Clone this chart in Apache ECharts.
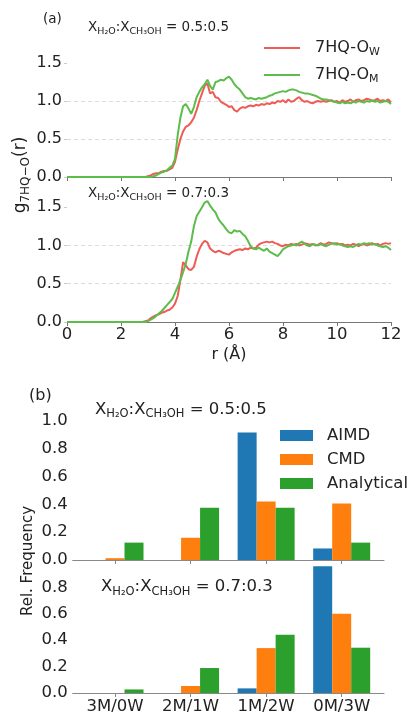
<!DOCTYPE html>
<html><head><meta charset="utf-8">
<script src="https://cdn.jsdelivr.net/npm/echarts@6/dist/echarts.min.js"></script>
<style>html,body{margin:0;padding:0;background:#fff}#c{width:409px;height:715px}</style>
</head><body><div id="c"></div>
<script>
// ---------- DATA ----------
const r = [
 0.0,0.1,0.2,0.3,0.4,0.5,0.6,0.7,0.8,0.9,
 1.0,1.1,1.2,1.3,1.4,1.5,1.6,1.7,1.8,1.9,
 2.0,2.1,2.2,2.3,2.4,2.5,2.6,2.7,2.8,2.9,
 3.0,3.1,3.2,3.3,3.4,3.5,3.6,3.7,3.8,3.9,
 4.0,4.1,4.2,4.3,4.4,4.5,4.6,4.7,4.8,4.9,
 5.0,5.1,5.2,5.3,5.4,5.5,5.6,5.7,5.8,5.9,
 6.0,6.1,6.2,6.3,6.4,6.5,6.6,6.7,6.8,6.9,
 7.0,7.1,7.2,7.3,7.4,7.5,7.6,7.7,7.8,7.9,
 8.0,8.1,8.2,8.3,8.4,8.5,8.6,8.7,8.8,8.9,
 9.0,9.1,9.2,9.3,9.4,9.5,9.6,9.7,9.8,9.9,
 10.0,10.1,10.2,10.3,10.4,10.5,10.6,10.7,10.8,10.9,
 11.0,11.1,11.2,11.3,11.4,11.5,11.6,11.7,11.8,11.9,
 12.0];
// x_H2O : x_CH3OH = 0.5 : 0.5
const gOw_55 = [
 0,0,0,0,0,0,0,0,0,0,
 0,0,0,0,0,0,0,0,0,0,
 0,0,0,0,0,0,0,0,0,0,
 0.01,0.02,0.04,0.05,0.05,0.07,0.08,0.08,0.10,0.12,
 0.20,0.36,0.50,0.60,0.66,0.68,0.72,0.78,0.88,1.00,
 1.10,1.20,1.23,1.10,1.12,1.05,1.04,0.99,0.97,0.95,
 0.92,0.93,0.88,0.86,0.90,0.92,0.91,0.93,0.94,0.93,
 0.95,0.94,0.96,0.95,0.97,0.96,0.98,0.97,1.00,0.99,
 1.01,0.98,1.02,0.99,1.00,1.03,1.05,1.01,0.99,1.00,
 0.98,0.97,0.99,1.00,0.99,1.00,0.99,1.00,1.01,0.99,
 1.00,0.98,1.01,0.99,1.00,1.02,0.99,1.01,1.02,1.00,
 1.01,1.03,1.02,1.00,1.01,1.03,1.00,1.01,1.00,1.02,
 0.98];
const gOm_55 = [
 0,0,0,0,0,0,0,0,0,0,
 0,0,0,0,0,0,0,0,0,0,
 0,0,0,0,0,0,0,0,0,0,
 0,0,0.01,0.02,0.04,0.06,0.07,0.09,0.12,0.15,
 0.24,0.55,0.78,0.93,0.96,0.90,0.83,0.92,1.05,1.12,
 1.18,1.22,1.28,1.20,1.15,1.25,1.26,1.28,1.27,1.30,
 1.32,1.28,1.22,1.18,1.15,1.10,1.05,1.03,1.04,1.03,
 1.02,1.04,1.03,1.04,1.05,1.07,1.08,1.10,1.11,1.12,
 1.13,1.12,1.14,1.15,1.15,1.14,1.12,1.11,1.10,1.10,
 1.09,1.08,1.07,1.05,1.03,1.02,1.02,1.01,1.00,0.99,
 0.98,0.97,0.99,0.97,0.98,0.97,0.99,0.98,1.00,0.99,
 0.98,1.00,0.99,1.01,0.99,1.00,0.98,0.99,1.00,0.99,
 0.96];
// x_H2O : x_CH3OH = 0.7 : 0.3
const gOw_73 = [
 0,0,0,0,0,0,0,0,0,0,
 0,0,0,0,0,0,0,0,0,0,
 0,0,0,0,0,0,0,0,0,0.01,
 0.02,0.05,0.07,0.09,0.10,0.12,0.13,0.15,0.16,0.19,
 0.24,0.34,0.55,0.78,0.74,0.69,0.68,0.72,0.85,0.95,
 1.02,1.06,1.04,0.96,0.93,0.91,0.93,0.92,0.90,0.89,
 0.88,0.91,0.93,0.94,0.95,0.94,0.96,0.95,0.97,0.96,
 0.97,1.01,1.03,1.04,1.05,1.04,1.05,1.03,1.02,1.00,
 0.99,1.01,1.00,1.02,1.01,1.02,1.00,1.01,1.03,1.02,
 1.01,1.02,1.00,1.01,1.03,1.01,1.02,1.04,1.03,1.02,
 1.03,1.01,1.02,1.00,1.01,1.00,1.02,1.01,0.99,1.01,
 1.02,1.00,1.01,1.03,1.01,1.02,1.00,1.02,1.03,1.02,
 1.03];
const gOm_73 = [
 0,0,0,0,0,0,0,0,0,0,
 0,0,0,0,0,0,0,0,0,0,
 0,0,0,0,0,0,0,0,0,0,
 0.01,0.03,0.05,0.08,0.11,0.14,0.18,0.22,0.26,0.30,
 0.38,0.46,0.55,0.65,0.76,0.92,1.05,1.25,1.38,1.44,
 1.50,1.56,1.58,1.52,1.47,1.43,1.35,1.30,1.26,1.21,
 1.17,1.16,1.20,1.18,1.19,1.15,1.12,1.06,0.99,0.96,
 0.95,0.97,0.95,0.93,0.96,0.92,0.90,0.88,0.86,0.90,
 0.95,0.97,0.99,1.00,1.01,1.00,1.03,1.05,1.02,1.00,
 0.99,1.02,1.01,1.00,1.02,1.00,0.99,1.01,1.02,1.03,
 1.01,1.02,1.00,0.99,0.98,0.99,0.98,1.00,1.02,1.01,
 1.03,1.02,1.03,1.01,1.02,1.00,0.99,0.98,0.99,0.97,
 0.94];

const categories = ['3M/0W', '2M/1W', '1M/2W', '0M/3W'];
const aimd_55 = [0, 0, 0.917, 0.083];
const cmd_55  = [0.013, 0.16, 0.42, 0.407];
const ana_55  = [0.125, 0.375, 0.375, 0.125];
const aimd_73 = [0, 0, 0.035, 0.96];
const cmd_73  = [0, 0.053, 0.34, 0.60];
const ana_73  = [0.027, 0.189, 0.441, 0.343];

const rTicks = [0, 2, 4, 6, 8, 10, 12];
const gTicks = [0, 0.5, 1.0, 1.5];
const freqTicksTop = [0, 0.2, 0.4, 0.6, 0.8, 1.0];
const freqTicksBottom = [0, 0.2, 0.4, 0.6, 0.8];

// ---------- STYLE ----------
const FF = 'DejaVu Sans';
const RED = '#ef5b55', GREEN = '#5cbd4b';
const BLUE = '#1f77b4', ORANGE = '#ff7f0e', BGREEN = '#2ca02c';
const TXT = '#222';
const catIdx = categories.map((c, i) => i);

function pairs(xs, ys) { return xs.map((x, i) => [x, ys[i]]); }

function rdfX(grid, showLabels) {
  return {
    gridIndex: grid, type: 'value', min: 0, max: 12, interval: 2,
    axisLine: { show: true, lineStyle: { color: '#777', width: 1 } },
    axisTick: { show: true, length: 4, lineStyle: { color: '#777' } },
    axisLabel: { show: showLabels, fontFamily: FF, fontSize: 16.5, color: TXT, margin: 4,
      formatter: v => rTicks.indexOf(v) >= 0 ? String(v) : '' },
    splitLine: { show: false },
    name: showLabels ? 'r (Å)' : '', nameLocation: 'middle', nameGap: 25,
    nameTextStyle: { fontFamily: FF, fontSize: 16, color: TXT }
  };
}
function rdfY(grid) {
  return {
    gridIndex: grid, type: 'value', min: 0, max: 1.75, interval: 0.5,
    axisLine: { show: false },
    axisTick: { show: true, length: 3, customValues: gTicks, lineStyle: { color: '#ccc' } },
    axisLabel: { fontFamily: FF, fontSize: 16, color: TXT, margin: 5,
      formatter: v => gTicks.indexOf(v) >= 0 ? v.toFixed(1) : '' },
    splitLine: { show: true, showMinLine: false, showMaxLine: false,
      lineStyle: { type: [4, 3], color: '#dcdcdc', width: 1 } }
  };
}
function barX(grid, showLabels) {
  return {
    gridIndex: grid, type: 'value', min: -0.56, max: 3.56,
    axisLine: { show: true, lineStyle: { color: '#888', width: 1 } },
    axisTick: { show: true, length: 4, customValues: catIdx, lineStyle: { color: '#888' } },
    axisLabel: { show: showLabels, customValues: catIdx, fontFamily: FF, fontSize: 16.5, color: TXT, margin: 5,
      formatter: v => categories[Math.round(v)] || '' },
    splitLine: { show: false }
  };
}
function barY(grid, ticks) {
  return {
    gridIndex: grid, type: 'value', min: 0, max: 1.007, interval: 0.2,
    axisLine: { show: false }, axisTick: { show: false },
    axisLabel: { fontFamily: FF, fontSize: 16.5, color: TXT, margin: 5,
      formatter: v => ticks.some(t => Math.abs(t - v) < 1e-6) ? v.toFixed(1) : '' },
    splitLine: { show: false }
  };
}
function lineSeries(name, color, grid, ys) {
  return { name, type: 'line', xAxisIndex: grid, yAxisIndex: grid, data: pairs(r, ys),
    symbol: 'none', showSymbol: false, color, itemStyle: { color },
    lineStyle: { color, width: 2 }, z: name === 'Om' ? 3 : 2, silent: true };
}
function barSeries(name, color, grid, ys) {
  return { name, type: 'bar', xAxisIndex: grid, yAxisIndex: grid, data: pairs(catIdx, ys),
    barWidth: 19, barGap: '0%', color, itemStyle: { color }, silent: true };
}

function subRich(parts) {
  return parts.map(p => '{' + (p[1] ? 's' : 'm') + '|' + p[0] + '}').join('');
}
function richStyles(fm, fs, L, l) {
  return { m: { fontFamily: FF, fontSize: fm, lineHeight: L, fill: TXT, verticalAlign: 'middle' },
           s: { fontFamily: FF, fontSize: fs, lineHeight: l, fill: TXT, verticalAlign: 'bottom' } };
}
function subText(x, y, parts, fm, fs, L, l) {
  return { type: 'text', x: x, y: y, style: { text: subRich(parts), align: 'left', verticalAlign: 'middle',
    textAlign: 'left', textVerticalAlign: 'middle', rich: richStyles(fm, fs, L, l) } };
}

// rotated y label g_{7HQ−O}(r) built from plain centred text pieces
const mctx = document.createElement('canvas').getContext('2d');
function tw(t, fs) { mctx.font = fs + 'px "' + FF + '"'; return mctx.measureText(t).width; }
function rotatedSubLabel(cx, cy, parts, fm, fs, subShift) {
  const total = parts.reduce((a, p) => a + tw(p[0], p[1] ? fs : fm), 0);
  let y = cy + total / 2;
  const els = [];
  parts.forEach(p => {
    const f = p[1] ? fs : fm;
    const w = tw(p[0], f);
    els.push({ type: 'text', x: p[1] ? cx + subShift : cx, y: y - w / 2, rotation: Math.PI / 2,
      style: { text: p[0], fontFamily: FF, fontSize: f, fill: TXT,
        align: 'center', verticalAlign: 'middle', textAlign: 'center', textVerticalAlign: 'middle' } });
    y -= w;
  });
  return els;
}

const chart = echarts.init(document.getElementById('c'), null, { renderer: 'canvas' });
chart.setOption({
  animation: false,
  backgroundColor: '#fff',
  grid: [
    { left: 67, width: 324, top: 44, height: 133 },
    { left: 67, width: 324, top: 188, height: 134 },
    { left: 72.7, width: 311.3, top: 420, height: 140 },
    { left: 72.7, width: 311.3, top: 560, height: 139 }
  ],
  xAxis: [rdfX(0, false), rdfX(1, true), barX(2, false), barX(3, true)],
  yAxis: [rdfY(0), rdfY(1), barY(2, freqTicksTop), barY(3, freqTicksBottom)],
  legend: [
    { data: ['Ow', 'Om'], orient: 'vertical', left: 264, top: 38, padding: 0, itemGap: 7,
      itemWidth: 36, itemHeight: 2, icon: 'rect', selectedMode: false,
      formatter: n => '{g| }7HQ-O{s|' + (n === 'Ow' ? 'W' : 'M') + '}',
      textStyle: { fontFamily: FF, fontSize: 16, color: TXT, lineHeight: 20,
        rich: { g: { width: 10, fontSize: 16, lineHeight: 20 },
                s: { fontFamily: FF, fontSize: 11, lineHeight: 11, color: TXT, verticalAlign: 'bottom' } } } },
    { data: ['AIMD', 'CMD', 'Analytical'], orient: 'vertical', left: 280, top: 426, padding: 0, itemGap: 5,
      itemWidth: 33, itemHeight: 11, icon: 'rect', selectedMode: false,
      formatter: n => '{g| }' + n,
      textStyle: { fontFamily: FF, fontSize: 16.5, color: TXT, lineHeight: 19,
        rich: { g: { width: 9, fontSize: 16.5, lineHeight: 19 } } } }
  ],
  graphic: [
    { type: 'text', x: 28, y: 561, rotation: Math.PI / 2,
      style: { text: 'Rel. Frequency', fontFamily: FF, fontSize: 15, fill: TXT,
        align: 'center', verticalAlign: 'middle', textAlign: 'center', textVerticalAlign: 'middle' } },
    ...rotatedSubLabel(21, 175, [['g', 0], ['7HQ−O', 1], ['(r)', 0]], 17, 12, 4.5),
    { type: 'text', x: 43, y: 19, style: { text: '(a)', fontFamily: FF, fontSize: 13.5, fill: TXT,
      align: 'left', verticalAlign: 'middle', textAlign: 'left', textVerticalAlign: 'middle' } },
    { type: 'text', x: 29, y: 396, style: { text: '(b)', fontFamily: FF, fontSize: 16, fill: TXT,
      align: 'left', verticalAlign: 'middle', textAlign: 'left', textVerticalAlign: 'middle' } },
    subText(88, 27, [['X', 0], ['H₂O', 1], [':X', 0], ['CH₃OH', 1], [' = 0.5:0.5', 0]], 13.5, 9.5, 19, 10),
    subText(88, 193, [['X', 0], ['H₂O', 1], [':X', 0], ['CH₃OH', 1], [' = 0.7:0.3', 0]], 13.5, 9.5, 19, 10),
    subText(95, 409.5, [['X', 0], ['H₂O', 1], [':X', 0], ['CH₃OH', 1], [' = 0.5:0.5', 0]], 16.5, 11.5, 22, 12),
    subText(101, 587, [['X', 0], ['H₂O', 1], [':X', 0], ['CH₃OH', 1], [' = 0.7:0.3', 0]], 16.5, 11.5, 22, 12)
  ],
  series: [
    lineSeries('Ow', RED, 0, gOw_55),
    lineSeries('Om', GREEN, 0, gOm_55),
    lineSeries('Ow', RED, 1, gOw_73),
    lineSeries('Om', GREEN, 1, gOm_73),
    barSeries('AIMD', BLUE, 2, aimd_55),
    barSeries('CMD', ORANGE, 2, cmd_55),
    barSeries('Analytical', BGREEN, 2, ana_55),
    barSeries('AIMD', BLUE, 3, aimd_73),
    barSeries('CMD', ORANGE, 3, cmd_73),
    barSeries('Analytical', BGREEN, 3, ana_73)
  ]
});
</script></body></html>
